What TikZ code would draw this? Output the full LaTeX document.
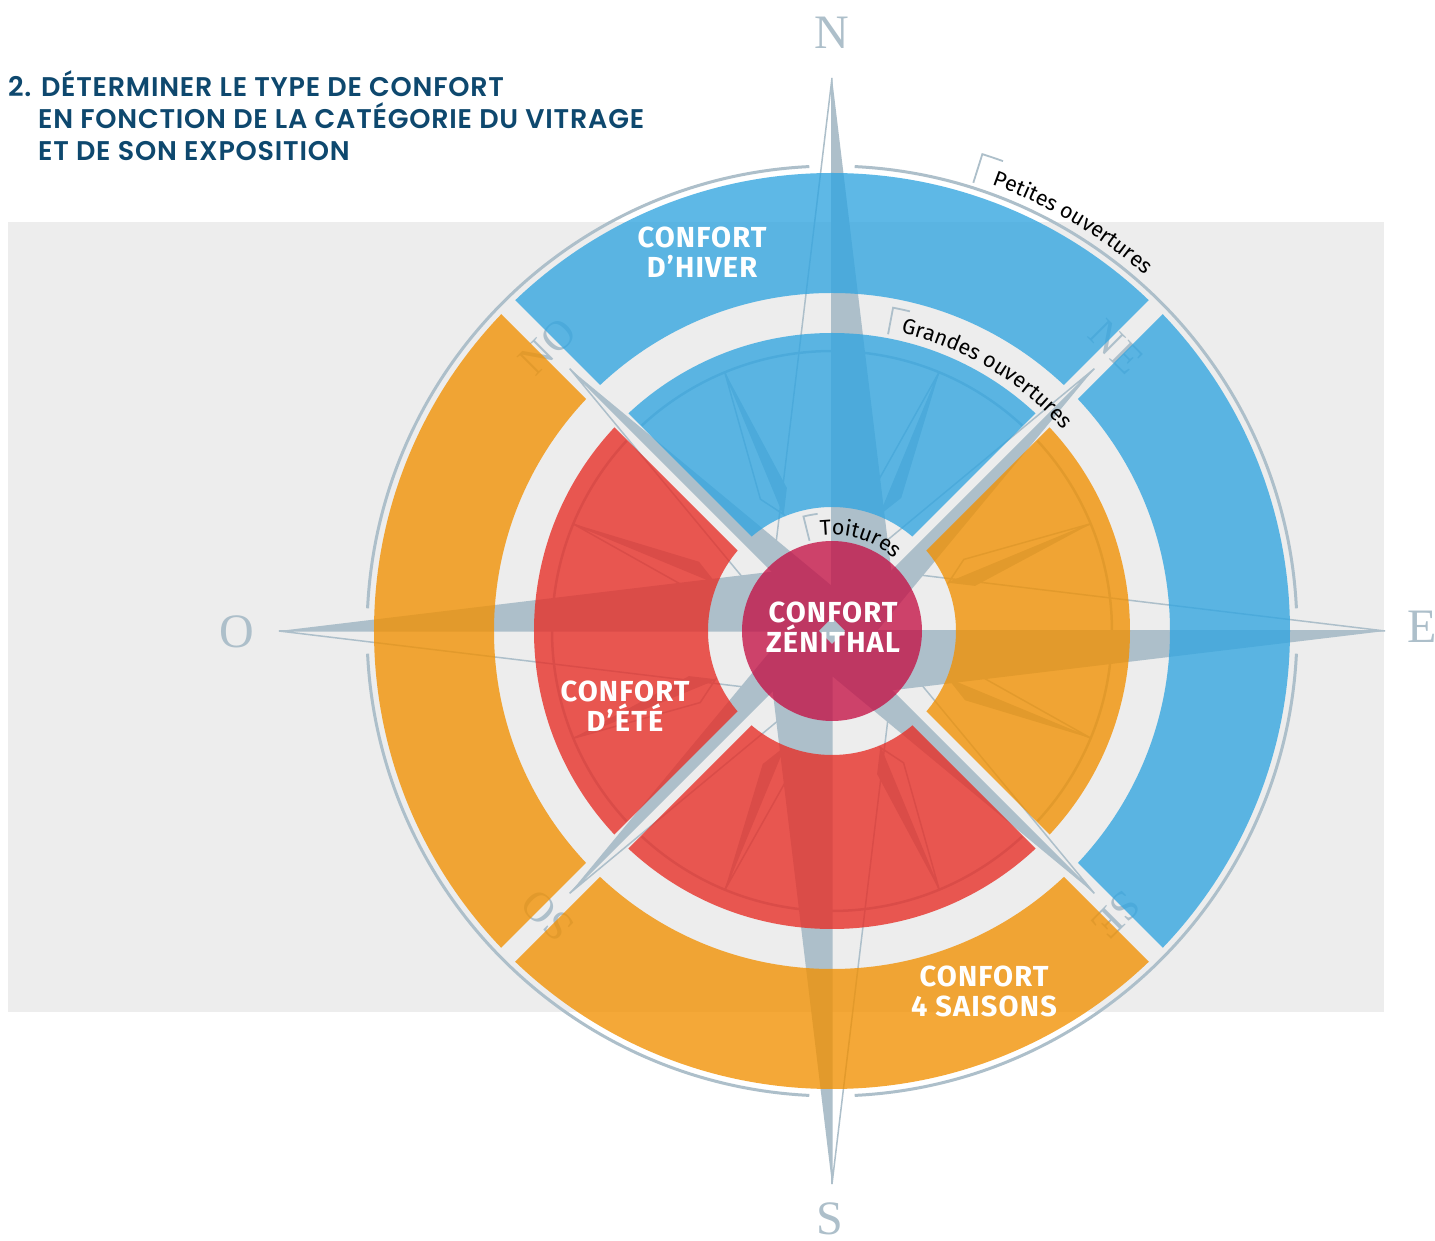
\documentclass[tikz,border=0pt]{standalone}
\usepackage{fontspec}
\usetikzlibrary{decorations.text}
\setmainfont{Liberation Serif}
\newfontfamily\titrefont{Poppins SemiBold}[LetterSpace=2.9]
\newfontfamily\etiqfont{Fira Sans}
\newfontfamily\confortfont{Fira Sans}[LetterSpace=4]
\newcommand\etiq{\etiqfont\fontsize{21.5}{21.5}\selectfont}
\definecolor{rose}{RGB}{173,191,202}
\definecolor{fond}{RGB}{237,237,237}
\definecolor{titre}{RGB}{14,72,110}
\definecolor{hiver}{RGB}{49,165,224}
\definecolor{saisons}{RGB}{242,144,0}
\definecolor{ete}{RGB}{231,44,36}
\definecolor{zenith}{RGB}{196,18,70}

\begin{document}
\begin{tikzpicture}[x=1pt, y=1pt,
	bande/.style={fill opacity=.78, even odd rule},
	lettre/.style={text=rose, inner sep=0pt, font=\fontsize{48}{48}\selectfont},
	petitelettre/.style={text=rose, inner sep=0pt, font=\fontsize{42}{42}\selectfont},
	confort/.style={text=white, align=center, font=\confortfont\bfseries\fontsize{29}{30}\selectfont},
	titreligne/.style={anchor=base west, inner sep=0pt, text=titre, font=\titrefont\fontsize{27}{27}\selectfont},
	crochet/.style={draw=rose, line width=1.8pt}]
		\fill[white] (-832,-610) rectangle (603,631);
		\useasboundingbox (-832,-610) rectangle (603,631);
		\fill[fond] (-824,-381) rectangle (552,409);						% Fond gris
		
		% Points cardinaux
		\node[lettre] (N) at (0,598) {N};
		\node[lettre] (E) at (590,4) {E};
		\node[lettre] (S) at (-2,-588) {S};
		\node[lettre] (O) at (-595,-1) {O};
		\node[petitelettre, rotate=45]   (NO) at (135:402) {NO};
		\node[petitelettre, rotate=-45]  (NE) at (45:402)  {NE};
		\node[petitelettre, rotate=-135] (SE) at (-45:402) {SE};
		\node[petitelettre, rotate=135]  (SO) at (-135:402) {SO};
		
		% Rose des vents
		\foreach \a in {45,135,225,315}
			\draw[rose, line width=2.5pt] ({\a+2.2}:280) arc[start angle=\a+2.2, end angle=\a+87.8, radius=280];
		\foreach \a in {22.5,67.5,...,337.5} {
			\fill[rose, rotate=\a] (126,0) -- (281,0) -- (-5:150) -- cycle;
			\draw[rose, line width=1.5pt, rotate=\a] (126,0) -- (281,0) -- (6:150) -- cycle;
		}
		\foreach \a in {45,135,225,315} {
			\fill[rose, rotate=\a] (0,0) -- (371,0) -- (-45:45) -- cycle;
			\draw[rose, line width=1.5pt, rotate=\a] (0,0) -- (371,0) -- (45:45) -- cycle;
		}
		\foreach \a in {0,90,180,270} {
			\fill[rose, rotate=\a] (0,0) -- (553,0) -- (-45:84) -- cycle;
			\draw[rose, line width=1.5pt, rotate=\a] (0,0) -- (553,0) -- (45:84) -- cycle;
		}
		\foreach \a in {0,90,180,270}
			\draw[rose, line width=3pt] ({\a+2.8}:465) arc[start angle=\a+2.8, end angle=\a+87.2, radius=465];
		
		% Bandes
		\foreach \a/\ci/\co in {90/hiver/hiver, 0/saisons/hiver, 270/ete/saisons, 180/ete/saisons} {
			\begin{scope}[rotate=\a-90]
				\clip (0,14) -- (700,714) -- (-700,714) -- cycle;
				\fill[\ci, bande] (0,0) circle[radius=298] (0,0) circle[radius=124];
				\fill[\co, bande] (0,0) circle[radius=458] (0,0) circle[radius=338];
			\end{scope}
		}
		\fill[zenith, fill opacity=.78] (0,0) circle[radius=90];			% Zénith
		\fill[rose] (13,0) -- (0,13) -- (-13,0) -- (0,-13) -- cycle;
		
		% Textes
		\node[confort] (hiver)    at (-130,379) {CONFORT\\D’HIVER};
		\node[confort] (ete)      at (-207,-75) {CONFORT\\D’ÉTÉ};
		\node[confort] (zenithal) at (1,4)      {CONFORT\\ZÉNITHAL};
		\node[confort] (saisons)  at (152,-360) {CONFORT\\4 SAISONS};
		
		\path[decorate, decoration={text along path, text align=center, text={|\etiq|Petites ouvertures}}]
			(75:474) arc[start angle=75, end angle=44, radius=474];
		\path[decorate, decoration={text along path, text align=center, text={|\etiq|Grandes ouvertures}}]
			(84:306) arc[start angle=84, end angle=34, radius=306];
		\path[decorate, decoration={text along path, text align=center, text={|\etiq|Toitures}}]
			(103:96) arc[start angle=103, end angle=43, radius=96];
		\draw[crochet] (72.5:470) -- (72.5:500) arc[start angle=72.5, end angle=70, radius=500];
		\draw[crochet] (79.3:302) -- (79.3:329) arc[start angle=79.3, end angle=76.3, radius=329];
		\draw[crochet] (104:93) -- (104:118) arc[start angle=104, end angle=97, radius=118];
		
		% Titre
		\node[titreligne] (titre1) at (-824,534) {2. DÉTERMINER LE TYPE DE CONFORT};
		\node[titreligne] (titre2) at (-794,502) {EN FONCTION DE LA CATÉGORIE DU VITRAGE};
		\node[titreligne] (titre3) at (-794,470) {ET DE SON EXPOSITION};
	\end{tikzpicture}
\end{document}
